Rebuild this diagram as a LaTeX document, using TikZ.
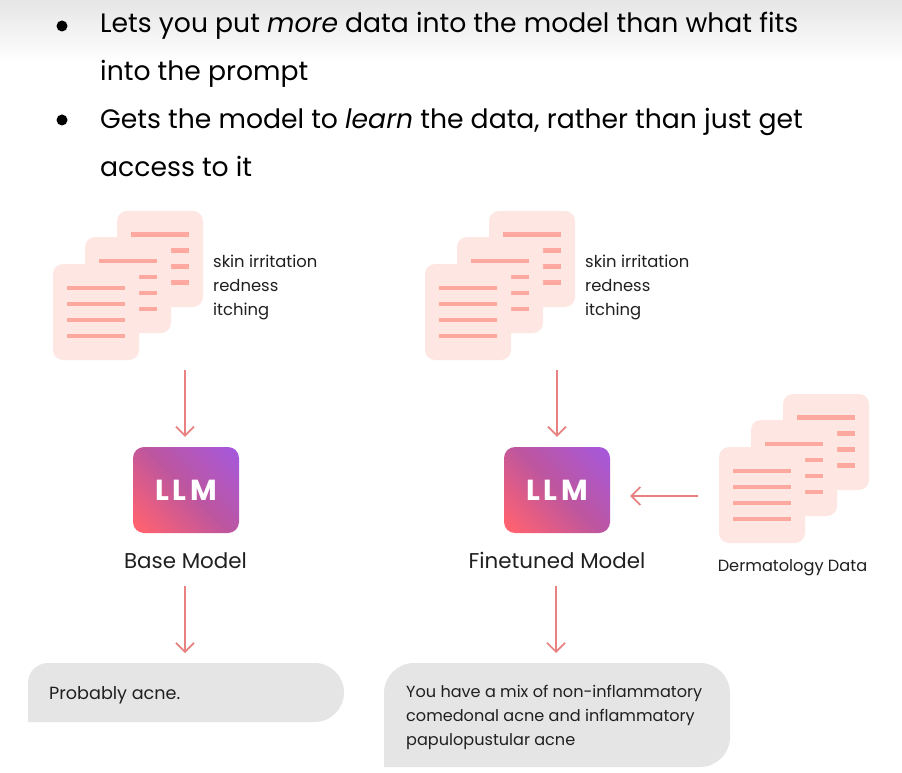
\documentclass[tikz,border=0pt]{standalone}
\usepackage{fontspec}
\setmainfont{Poppins}
\usetikzlibrary{arrows.meta,calc}
\definecolor{docbg}{HTML}{FEE7E3}
\definecolor{docln}{HTML}{FDA9A0}
\definecolor{arrowc}{HTML}{E88280}
\definecolor{bubble}{HTML}{E5E5E6}
\definecolor{ink}{HTML}{202020}
\definecolor{llmA}{HTML}{FF6270}
\definecolor{llmM}{HTML}{BE569E}
\definecolor{llmB}{HTML}{A558DC}
\pgfdeclareverticalshading{llmgrad}{100bp}{color(0bp)=(llmA); color(18bp)=(llmA); color(50bp)=(llmM); color(84bp)=(llmB); color(100bp)=(llmB)}
\tikzset{
  x=1pt,y=-1pt,
  sheet/.style={fill=docbg,rounded corners=10pt},
  rule/.style={docln,line width=4.8pt},
  flow/.style={draw=arrowc,line width=1.7pt,-{Straight Barb[length=9pt,width=18pt,line width=1.7pt]}},
  big/.style={anchor=base west,inner sep=0pt,text=black,font=\fontsize{26.65}{32}\selectfont},
  small/.style={anchor=base west,inner sep=0pt,text=ink,font=\fontsize{16.1}{19}\selectfont},
  symptom/.style={small,font=\fontsize{16.4}{19}\selectfont},
  title/.style={anchor=base,inner sep=0pt,text=ink,font=\fontsize{21.4}{25}\selectfont},
  bullet/.style={circle,fill=black,minimum size=11pt,inner sep=0pt},
  llmbox/.style={rounded corners=11pt,minimum width=106pt,minimum height=86pt,inner sep=0pt,
    shading=llmgrad,shading angle=-45,
    text=white,font=\fontsize{29}{34}\selectfont\bfseries\addfontfeatures{LetterSpace=12}},
  pics/docstack/.style={code={
    \fill[sheet] (64,-53) rectangle (150,43);
    \draw[rule] (78,-29.5) -- (136,-29.5);
    \foreach \yy in {-13.5,2.5,18.5} \draw[rule] (118,\yy) -- (136,\yy);
    \fill[sheet] (32,-27) rectangle (118,69);
    \draw[rule] (46,-3) -- (104,-3);
    \foreach \yy in {13,29,45} \draw[rule] (86,\yy) -- (104,\yy);
    \fill[sheet] (0,0) rectangle (86,96);
    \foreach \yy in {24,40,56,72} \draw[rule] (14,\yy) -- (72,\yy);
  }}
}
\begin{document}
\begin{tikzpicture}
\useasboundingbox (0,0) rectangle (902,773);
\fill[white] (0,0) rectangle (902,773);
\shade[top color=black!10,bottom color=white] (0,0) rectangle (902,62);

% bullet text
\node[bullet] (b1) at (62,26) {};
\node[bullet] (b2) at (62,120) {};
\node[big] (t1) at (100,33) {Lets you put \textit{more} data into the model than what fits};
\node[big] (t2) at (100,81) {into the prompt};
\node[big] (t3) at (100,128.5) {Gets the model to \textit{learn} the data, rather than just get};
\node[big] (t4) at (100,176) {access to it};

% document stacks
\pic at (53,264) {docstack};
\pic at (425,264) {docstack};
\pic at (719,447) {docstack};

\node[symptom] (s1a) at (213,267) {skin irritation};
\node[symptom] (s1b) at (213,291) {redness};
\node[symptom] (s1c) at (213,315) {itching};
\node[symptom] (s2a) at (585,267) {skin irritation};
\node[symptom] (s2b) at (585,291) {redness};
\node[symptom] (s2c) at (585,315) {itching};

% models
\node[llmbox] (llm1) at (186,490) {LLM};
\node[llmbox] (llm2) at (557,490) {LLM};
\node[title] (base) at (185.5,568) {Base Model};
\node[title] (fine) at (557,568) {Finetuned Model};
\node[small,anchor=base,font=\fontsize{16.2}{19}\selectfont] (derm) at (792.5,571) {Dermatology Data};

% answers
\fill[bubble] (28,722) -- (28,683) arc[start angle=180,end angle=90,radius=20pt] -- (314.5,663)
  arc[start angle=90,end angle=-90,radius=29.5pt] -- cycle;
\fill[bubble] (384,767) -- (384,693) arc[start angle=180,end angle=90,radius=30pt] -- (700,663)
  arc[start angle=90,end angle=0,radius=30pt] -- (730,737)
  arc[start angle=0,end angle=-90,radius=30pt] -- cycle;
\node[small,font=\fontsize{17.6}{21}\selectfont] (ans1) at (49,699) {Probably acne.};
\node[small] (ans2a) at (406,697) {You have a mix of non-inflammatory};
\node[small] (ans2b) at (406,721) {comedonal acne and inflammatory};
\node[small] (ans2c) at (406,745) {papulopustular acne};

% connector ends
\coordinate (in1) at (185,370);
\coordinate (in2) at (557,370);
\coordinate (in3) at (698,496);
\coordinate (out1) at (185,586);
\coordinate (out2) at (556,586);
\coordinate (res1) at (185,663);
\coordinate (res2) at (556,663);

\draw[flow,shorten >=10pt] (in1) -- (in1 |- llm1.north);
\draw[flow,shorten >=10pt] (in2) -- (in2 |- llm2.north);
\draw[flow,shorten >=20pt] (in3) -- (in3 -| llm2.east);
\draw[flow,shorten >=10pt] (out1) -- (res1);
\draw[flow,shorten >=10pt] (out2) -- (res2);
\end{tikzpicture}
\end{document}
